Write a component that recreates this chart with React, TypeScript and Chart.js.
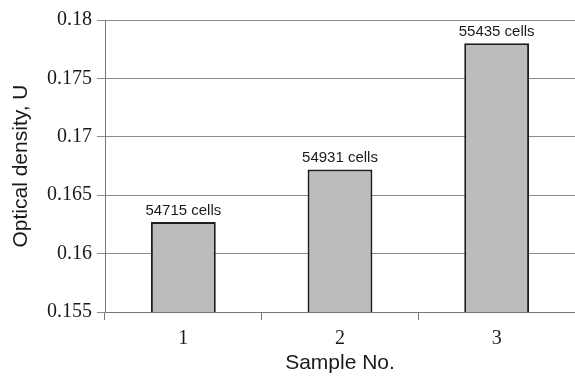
import React, { useEffect, useRef } from "react";
import { Chart, registerables } from "chart.js";

Chart.register(...registerables);

const categories = ["1", "2", "3"];
const opticalDensity = [0.1627, 0.1672, 0.178];
const cellCounts = ["54715 cells", "54931 cells", "55435 cells"];
const yMin = 0.155;
const yMax = 0.18;
const yStep = 0.005;

const labelPlugin = {
  id: "cellLabels",
  afterDatasetsDraw(chart: any) {
    const ctx = chart.ctx;
    const meta = chart.getDatasetMeta(0);
    ctx.save();
    ctx.font = "15px 'Liberation Sans', Arial, sans-serif";
    ctx.fillStyle = "#1a1a1a";
    ctx.textAlign = "center";
    ctx.textBaseline = "bottom";
    meta.data.forEach((el: any, i: number) => {
      ctx.fillText(cellCounts[i], el.x, el.y - 4);
    });
    ctx.restore();
  },
};

export default function App() {
  const ref = useRef<HTMLCanvasElement | null>(null);
  useEffect(() => {
    if (!ref.current) return;
    const chart = new Chart(ref.current, {
      type: "bar",
      data: {
        labels: categories,
        datasets: [
          {
            data: opticalDensity,
            backgroundColor: "#bcbcbc",
            borderColor: "#1e1e1e",
            borderWidth: 2,
            barPercentage: 0.414,
            categoryPercentage: 1,
          },
        ],
      },
      options: {
        animation: false,
        responsive: false,
        maintainAspectRatio: false,
        layout: { padding: { top: 20, right: 0, left: 0, bottom: 0 } },
        plugins: { legend: { display: false }, tooltip: { enabled: false } },
        scales: {
          x: {
            offset: true,
            grid: {
              offset: true,
              drawOnChartArea: false,
              drawTicks: true,
              tickLength: 8,
              color: "#777",
            },
            border: { display: true, color: "#777", width: 1 },
            ticks: {
              color: "#1a1a1a",
              padding: 7,
              font: { family: "'Liberation Serif', 'Times New Roman', serif", size: 20 },
            },
            title: {
              display: true,
              text: "Sample No.",
              color: "#1a1a1a",
              padding: { top: 7, bottom: 0 },
              font: { family: "'Liberation Sans', Arial, sans-serif", size: 21 },
            },
            afterFit(scale: any) {
              scale.height = 64;
            },
          },
          y: {
            min: yMin,
            max: yMax,
            grid: { color: "#8a8a8a", tickLength: 8, lineWidth: 1 },
            border: { display: true, color: "#777", width: 1 },
            ticks: {
              stepSize: yStep,
              color: "#1a1a1a",
              padding: 5,
              font: { family: "'Liberation Serif', 'Times New Roman', serif", size: 20 },
              callback: (v: any) => String(+Number(v).toFixed(3)),
            },
            title: {
              display: true,
              text: "Optical density, U",
              color: "#1a1a1a",
              padding: { top: 9, bottom: 0 },
              font: { family: "'Liberation Sans', Arial, sans-serif", size: 21 },
            },
            afterFit(scale: any) {
              scale.width = 105;
            },
          },
        },
      },
      plugins: [labelPlugin],
    } as any);
    return () => chart.destroy();
  }, []);
  return (
    <div style={{ position: "fixed", left: 0, top: 0, width: 575, height: 376, background: "#fff" }}>
      <canvas ref={ref} width={575} height={376} style={{ width: 575, height: 376 }} />
    </div>
  );
}
